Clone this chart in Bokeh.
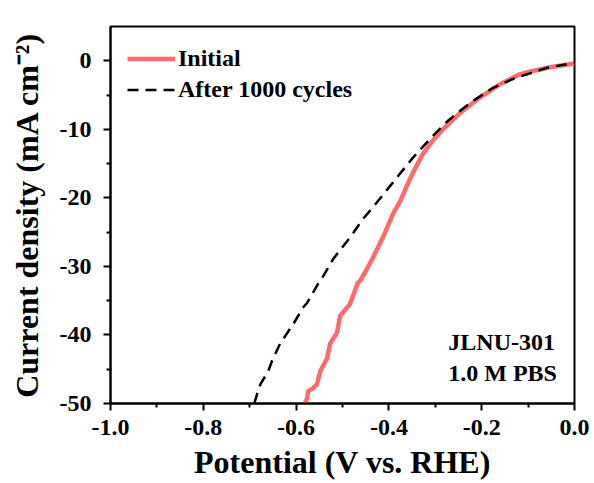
from bokeh.plotting import figure
from bokeh.models import Range1d, FixedTicker, Legend, LegendItem
from bokeh.core.properties import value
from bokeh.embed import file_html
from bokeh.resources import INLINE

# ---- data ----
initial_v = [-0.581, -0.576, -0.574, -0.566, -0.555, -0.548, -0.533, -0.527, -0.512,
             -0.505, -0.484, -0.467, -0.462, -0.441, -0.413, -0.391, -0.375, -0.361,
             -0.345, -0.326, -0.305, -0.282, -0.248, -0.205, -0.160, -0.119, -0.097,
             -0.050, 0.0]
initial_j = [-50.0, -49.2, -48.2, -47.9, -47.2, -45.3, -43.4, -41.3, -39.7,
             -37.2, -35.5, -32.4, -32.1, -29.6, -25.8, -22.3, -20.4, -18.2,
             -15.9, -13.5, -11.6, -9.9, -7.7, -5.4, -3.4, -2.0, -1.6,
             -0.9, -0.4]

after_v = [-0.690, -0.684, -0.677, -0.660, -0.652, -0.634, -0.606, -0.585, -0.576,
           -0.553, -0.544, -0.520, -0.484, -0.456, -0.419, -0.386, -0.349, -0.310,
           -0.272, -0.224, -0.177, -0.131, -0.058, 0.0]
after_j = [-50.0, -48.6, -47.2, -45.3, -43.8, -41.2, -38.4, -36.0, -35.3,
           -32.6, -31.7, -28.9, -25.8, -23.1, -20.1, -17.3, -14.2, -11.3,
           -8.7, -6.1, -4.0, -2.6, -1.0, -0.3]

x_ticks = [-1.0, -0.8, -0.6, -0.4, -0.2, 0.0]
x_tick_labels = ["-1.0", "-0.8", "-0.6", "-0.4", "-0.2", "0.0"]
x_minor = [-0.9, -0.7, -0.5, -0.3, -0.1]
y_ticks = [-50, -40, -30, -20, -10, 0]
y_tick_labels = ["-50", "-40", "-30", "-20", "-10", "0"]
y_minor = [-45, -35, -25, -15, -5]

series_labels = ["Initial", "After 1000 cycles"]
note_lines = ["JLNU-301", "1.0 M PBS"]
note_x = [-0.272, -0.272]
note_y = [-41.1, -45.5]

FONT = "Liberation Serif"
RED = "#FF6A6A"

p = figure(width=594, height=483, output_backend="svg", toolbar_location=None,
           x_range=Range1d(-1.0, 0.0), y_range=Range1d(-50, 5),
           min_border_left=110, min_border_right=20, min_border_top=26,
           min_border_bottom=80)

r1 = p.line(initial_v, initial_j, line_color=RED, line_width=4.5, line_join="round")
r2 = p.line(after_v, after_j, line_color="black", line_width=2.5, line_dash="11 7")

p.text(x=note_x, y=note_y, text=note_lines, text_font=value(FONT),
       text_font_style="bold", text_font_size="24px", text_baseline="middle",
       text_align="left", text_color="black")

p.xgrid.visible = False
p.ygrid.visible = False
p.outline_line_color = "black"
p.outline_line_width = 2
p.outline_line_alpha = 1

p.xaxis.ticker = FixedTicker(ticks=x_ticks, minor_ticks=x_minor)
p.yaxis.ticker = FixedTicker(ticks=y_ticks, minor_ticks=y_minor)
p.xaxis.major_label_overrides = {t: l for t, l in zip(x_ticks, x_tick_labels)}
p.yaxis.major_label_overrides = {t: l for t, l in zip(y_ticks, y_tick_labels)}

p.xaxis.axis_label = "Potential (V vs. RHE)"
p.yaxis.axis_label = "Current density (mA cm\u207b\u00b2)"

for ax in (p.xaxis, p.yaxis):
    ax.axis_line_width = 2
    ax.axis_line_color = "black"
    ax.major_tick_line_width = 2
    ax.minor_tick_line_width = 2
    ax.major_tick_out = 7
    ax.major_tick_in = 0
    ax.minor_tick_out = 4
    ax.minor_tick_in = 0
    ax.major_label_text_font = FONT
    ax.major_label_text_font_style = "bold"
    ax.major_label_text_font_size = "24px"
    ax.major_label_text_color = "black"
    ax.axis_label_text_font = FONT
    ax.axis_label_text_font_style = "bold"
    ax.axis_label_text_font_size = "32px"
    ax.axis_label_text_color = "black"

p.xaxis.major_label_standoff = 9
p.xaxis.axis_label_standoff = 6
p.yaxis.major_label_standoff = 12
p.yaxis.axis_label_standoff = 12

legend = Legend(items=[LegendItem(label=series_labels[0], renderers=[r1]),
                       LegendItem(label=series_labels[1], renderers=[r2])],
                location="top_left")
legend.label_text_font = FONT
legend.label_text_font_style = "bold"
legend.label_text_font_size = "24px"
legend.label_text_color = "black"
legend.border_line_color = None
legend.background_fill_alpha = 0
legend.margin = 17
legend.padding = 10
legend.spacing = 0
legend.label_height = 31
legend.glyph_height = 31
legend.glyph_width = 48
legend.label_standoff = 3
p.add_layout(legend)

open("out.html", "w").write(file_html(p, INLINE))
